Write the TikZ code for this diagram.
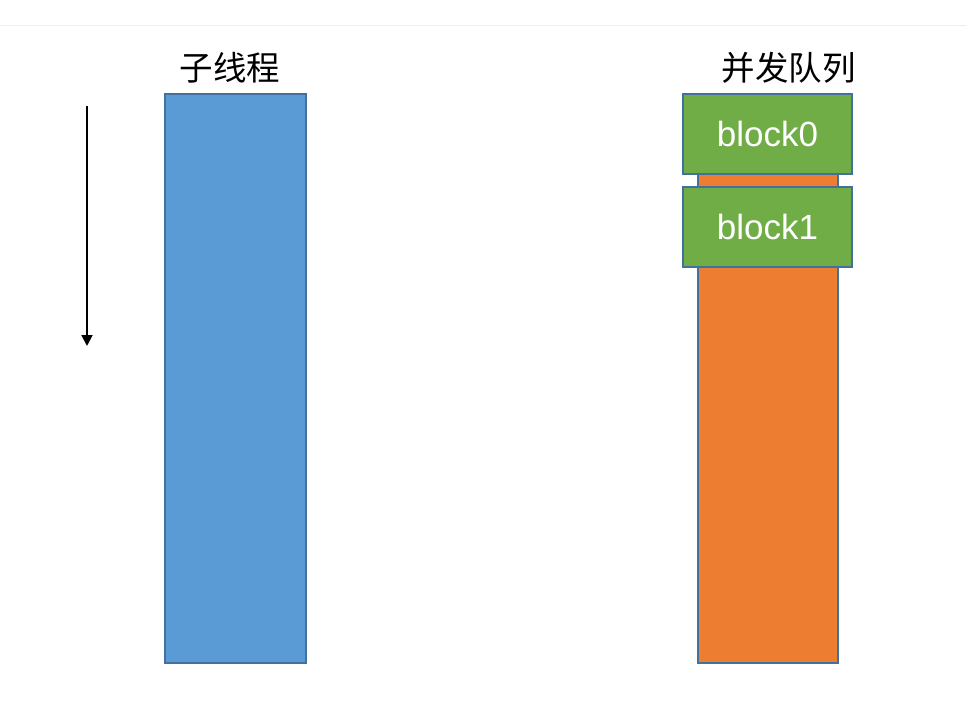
\documentclass[tikz,border=0pt]{standalone}
\usepackage{fontspec}
\setmainfont{Liberation Sans}
\newfontfamily\cjk{Noto Sans CJK SC}
\usetikzlibrary{arrows.meta}
\definecolor{bluefill}{HTML}{5B9BD5}
\definecolor{orangefill}{HTML}{ED7D31}
\definecolor{greenfill}{HTML}{70AD47}
\definecolor{edgeblue}{HTML}{41719C}
\definecolor{faint}{HTML}{EEEEEE}
\begin{document}
\begin{tikzpicture}[x=1pt,y=-1pt,
  colbox/.style={draw=edgeblue,line width=1.5pt},
  blockbox/.style={colbox,fill=greenfill,text=white,font=\fontsize{35}{38}\selectfont},
  title/.style={font=\cjk\fontsize{33.5}{36}\selectfont,text=black}]
\useasboundingbox (0,0) rectangle (966,706);
\fill[white] (0,0) rectangle (966,706);
\draw[faint,line width=1pt] (0,26) -- (966,26);
% columns
\filldraw[colbox,fill=bluefill] (165,94) rectangle (306,663);
\filldraw[colbox,fill=orangefill] (698,170) rectangle (838,663);
\node[title] (t1) at (230,68) {子线程};
\node[title] (t2) at (788.5,68) {并发队列};
\node[blockbox,minimum width=169pt,minimum height=80pt,inner sep=0pt] (b0) at (767.5,134) {block0};
\node[blockbox,minimum width=169pt,minimum height=80pt,inner sep=0pt] (b1) at (767.5,227) {block1};
\coordinate (a0) at (87,106);
\coordinate (a1) at (87,346);
\draw[line width=1.8pt,-{Triangle[width=11pt,length=11pt]}] (a0) -- (a1);
\end{tikzpicture}
\end{document}
